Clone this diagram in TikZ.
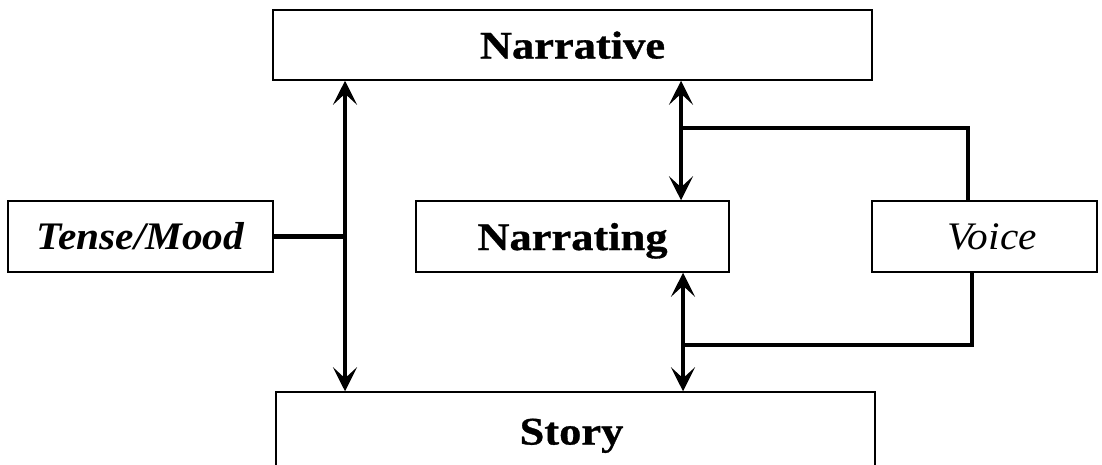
\documentclass[tikz,border=0pt]{standalone}
\usepackage{fontspec}
\setmainfont[FakeStretch=1.06]{Liberation Serif}
\newfontfamily\uprbold[FakeStretch=1.14, BoldFeatures={FakeBold=0.8}]{Liberation Serif}
\usetikzlibrary{arrows.meta}
\tikzset{
  box/.style={draw=black, line width=1.5pt, fill=white, inner sep=0pt, anchor=center},
  conn/.style={line width=4.6pt, line join=miter},
  dbl/.style={{Stealth[length=24pt,width=24pt,inset=11pt]}-{Stealth[length=24pt,width=24pt,inset=11pt]}},
  lbl/.style={font=\uprbold\fontsize{39}{44}\selectfont\bfseries, text height=27pt, text depth=0pt},
  ilbl/.style={font=\fontsize{39}{44}\selectfont\bfseries\itshape},
  rlbl/.style={font=\fontsize{39}{44}\selectfont\itshape}
}
\begin{document}
\begin{tikzpicture}[x=1pt,y=-1pt]
\useasboundingbox (0,0) rectangle (1102,464);
\clip (0,0) rectangle (1102,464);
\node[box, minimum width=599pt, minimum height=70pt, lbl] (narr) at (572.5,45) {Narrative};
\node[box, minimum width=265pt, minimum height=71pt, ilbl] (tm) at (140.5,236.5) {Tense/Mood};
\node[box, minimum width=313pt, minimum height=71pt, lbl] (ning) at (572.5,236.5) {Narrating};
\node[box, minimum width=225pt, minimum height=71pt] (voice) at (984.5,236.5) {};
\node[rlbl] (voicetxt) at (992,236.5) {Voice};
\node[box, minimum width=599pt, minimum height=90pt] (story) at (575.5,437) {};
\node[lbl] (storytxt) at (571.5,431) {Story};
% junction points
\coordinate (jL) at (345,236.5);
\coordinate (jT) at (681,128);
\coordinate (jB) at (683,345);
\coordinate (vT) at (968,128);
\coordinate (vB) at (972,345);
% left double arrow + Tense/Mood link
\draw[conn,dbl] (jL |- narr.south) -- (jL |- story.north);
\draw[conn] (tm.east) -- (jL);
% upper middle
\draw[conn,dbl] (jT |- narr.south) -- (jT |- ning.north);
\draw[conn] (jT) -- (vT) -- (vT |- voice.north);
% lower middle
\draw[conn,dbl] (jB |- ning.south) -- (jB |- story.north);
\draw[conn] (jB) -- (vB) -- (vB |- voice.south);
\end{tikzpicture}
\end{document}
